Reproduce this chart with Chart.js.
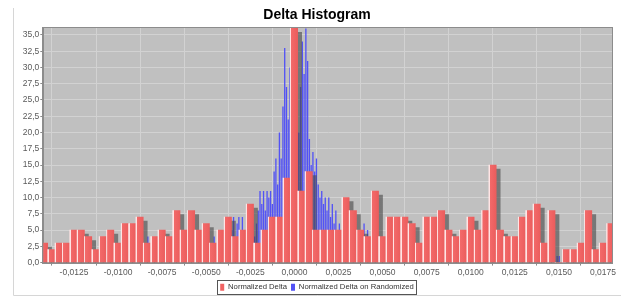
<!DOCTYPE html>
<html>
<head>
<meta charset="utf-8">
<script src="https://cdn.jsdelivr.net/npm/chart.js@4.4.1/dist/chart.umd.min.js"></script>
<style>
    html, body { margin: 0; padding: 0; background: #fff; }
    #wrap { width: 621px; height: 296px; }
</style>
</head>
<body>
<div id="wrap"><canvas id="deltaChart"></canvas></div>
<script>
// Axis ranges and tick steps
const xMin = -0.01424, xMax = 0.01805;
const yMin = 0, yMax = 36.1;
const xTickStep = 0.0025, yTickStep = 2.5;

// Normalized Delta: 78 equal bins
const deltaBinStart = -0.01441;
const deltaBinWidth = 0.000417;
const deltaCounts = [
    3, 2, 3, 3, 5, 5, 4, 2, 4, 5, 3, 6, 6, 7, 3, 4, 5, 4, 8, 5,
    8, 5, 6, 3, 5, 7, 4, 5, 9, 3, 5, 7, 7, 13, 36, 11, 14, 5, 5, 5,
    5, 10, 8, 5, 4, 11, 4, 7, 7, 7, 6, 3, 7, 7, 8, 5, 4, 5, 7, 5,
    8, 15, 5, 4, 4, 7, 8, 9, 3, 8, 0, 2, 2, 3, 8, 2, 3, 6
];

// Normalized Delta on Randomized: narrow bins around zero
const randBinStart = -0.0046;
const randBinWidth = 0.0001;
const randCounts = [
    4, 0, 0, 0, 0, 0, 0, 0, 0, 0,
    5, 7, 3, 6, 7, 5, 7, 4, 5, 3,
    4, 2, 6, 4, 6, 8, 11, 9, 11, 8,
    11, 10, 11, 9, 14, 16, 12, 20, 16, 24,
    33, 27, 22, 30, 26, 31, 28, 24, 20, 27,
    34, 29, 36, 31, 19, 15, 17, 14, 16, 12,
    10, 11, 9, 10, 8, 10, 7, 9, 6, 8,
    5, 6, 3, 0, 0, 0, 0, 0, 0, 0,
    0, 0, 0, 0, 5, 6, 4, 5
];
const randOutlierX = [-0.00831, 0.01490, 0.01502];
const randOutlierY = [4, 1, 1];

const deltaPoints = deltaCounts.map((c, i) => ({ x: deltaBinStart + (i + 0.5) * deltaBinWidth, y: c }));
const randPoints = randCounts
    .map((c, i) => ({ x: randBinStart + (i + 0.5) * randBinWidth, y: c }))
    .concat(randOutlierX.map((x, i) => ({ x: x, y: randOutlierY[i] })))
    .sort((a, b) => a.x - b.x);

const FONT = "'Liberation Sans', Arial, sans-serif";

// red bar fill with a light left edge, like the original bar painter
function redFill(context) {
    const chart = context.chart;
    const xs = chart.scales.x;
    if (!xs || context.type !== "data" || !context.raw) return "#f06363";
    const l = xs.getPixelForValue(context.raw.x - deltaBinWidth / 2);
    const r = xs.getPixelForValue(context.raw.x + deltaBinWidth / 2);
    if (!isFinite(l) || !isFinite(r) || r <= l) return "#f06363";
    const g = chart.ctx.createLinearGradient(l, 0, r, 0);
    g.addColorStop(0, "#ffe4e4");
    g.addColorStop(0.13, "#ffe4e4");
    g.addColorStop(0.14, "#f26a6a");
    g.addColorStop(0.5, "#f06464");
    g.addColorStop(1, "#ea5d5d");
    return g;
}

// grey plot background, panel edge lines
const plotFrame = {
    id: "plotFrame",
    beforeDraw(chart) {
        const { ctx, chartArea: a } = chart;
        ctx.save();
        ctx.fillStyle = "#c0c0c0";
        ctx.fillRect(a.left, a.top, a.right - a.left, a.bottom - a.top);
        ctx.strokeStyle = "#d6d6d6";
        ctx.lineWidth = 1;
        ctx.beginPath();
        ctx.moveTo(13.5, 8);
        ctx.lineTo(13.5, 295.5);
        ctx.lineTo(621, 295.5);
        ctx.stroke();
        ctx.restore();
    },
    afterDraw(chart) {
        const { ctx, chartArea: a } = chart;
        ctx.save();
        ctx.strokeStyle = "#8c8c8c";
        ctx.lineWidth = 1;
        ctx.strokeRect(Math.round(a.left) - 0.5, Math.round(a.top) - 0.5,
            Math.round(a.right - a.left) + 1, Math.round(a.bottom - a.top) + 1);
        // legend frame
        const hb = chart.legend.legendHitBoxes;
        if (hb && hb.length) {
            const last = hb[hb.length - 1];
            const x0 = Math.round(hb[0].left - 3) + 0.5;
            const x1 = Math.round(last.left + last.width + 2) + 0.5;
            const y0 = Math.round(hb[0].top - 3) + 0.5;
            const y1 = Math.round(hb[0].top + hb[0].height + 3) + 0.5;
            ctx.strokeStyle = "#555";
            ctx.strokeRect(x0, y0, x1 - x0, y1 - y0);
        }
        ctx.restore();
    }
};

// drop shadow behind the red bars
const barShadow = {
    id: "barShadow",
    beforeDatasetDraw(chart, args) {
        if (args.index !== 0) return;
        const ctx = chart.ctx;
        ctx.save();
        ctx.shadowColor = "rgba(70,70,70,0.6)";
        ctx.shadowOffsetX = 4;
        ctx.shadowOffsetY = 4;
        ctx.shadowBlur = 0;
    },
    afterDatasetDraw(chart, args) {
        if (args.index !== 0) return;
        chart.ctx.restore();
    }
};

new Chart(document.getElementById("deltaChart"), {
    type: "bar",
    data: {
        datasets: [
            {
                label: "Normalized Delta",
                data: deltaPoints,
                xAxisID: "x",
                backgroundColor: redFill,
                borderWidth: 0,
                barPercentage: 1,
                categoryPercentage: 1,
                grouped: false,
                clip: 0
            },
            {
                label: "Normalized Delta on Randomized",
                data: randPoints,
                xAxisID: "x2",
                backgroundColor: "#5252f5",
                borderWidth: 0,
                barPercentage: 0.75,
                categoryPercentage: 1,
                grouped: false,
                clip: 0
            }
        ]
    },
    options: {
        responsive: true,
        maintainAspectRatio: false,
        animation: false,
        layout: { padding: { left: 13, right: 0, top: 0, bottom: -5 } },
        scales: {
            x: {
                type: "linear",
                position: "bottom",
                min: xMin,
                max: xMax,
                offset: false,
                ticks: {
                    stepSize: xTickStep,
                    includeBounds: false,
                    maxRotation: 0,
                    autoSkip: false,
                    padding: 2,
                    color: "#5a5a5a",
                    font: { family: FONT, size: 8.5 },
                    callback: v => v.toFixed(4).replace(".", ",")
                },
                grid: { color: "#d2d2d2", tickColor: "#8a8a8a", tickLength: 3 },
                border: { color: "#a0a0a0" },
                afterFit: s => { s.height = 16.7; }
            },
            x2: {
                type: "linear",
                display: false,
                min: xMin,
                max: xMax,
                offset: false
            },
            y: {
                type: "linear",
                position: "left",
                min: yMin,
                max: yMax,
                ticks: {
                    stepSize: yTickStep,
                    includeBounds: false,
                    padding: 1,
                    color: "#5a5a5a",
                    font: { family: FONT, size: 8.5 },
                    callback: v => v.toFixed(1).replace(".", ",")
                },
                grid: { color: "#d2d2d2", tickColor: "#8a8a8a", tickLength: 3 },
                border: { color: "#8c8c8c" },
                afterFit: s => { s.width = 30.3; }
            },
            yRight: {
                type: "linear",
                position: "right",
                grid: { display: false },
                ticks: { display: false },
                border: { display: false },
                afterFit: s => { s.width = 8.3; }
            }
        },
        plugins: {
            title: {
                display: true,
                text: "Delta Histogram",
                color: "#000",
                font: { family: FONT, size: 14, weight: "bold" },
                padding: { top: 7, bottom: 4 }
            },
            legend: {
                position: "bottom",
                labels: {
                    boxWidth: 4,
                    boxHeight: 7,
                    padding: 4,
                    color: "#333",
                    font: { family: FONT, size: 7.7 },
                    generateLabels: chart => Chart.defaults.plugins.legend.labels.generateLabels(chart)
                        .map((item, i) => Object.assign(item, {
                            lineWidth: 0,
                            fillStyle: i === 0 ? "#f06363" : "#5252f5",
                            strokeStyle: i === 0 ? "#f06363" : "#5252f5"
                        }))
                }
            },
            tooltip: { enabled: false }
        }
    },
    plugins: [plotFrame, barShadow]
});
</script>
</body>
</html>
